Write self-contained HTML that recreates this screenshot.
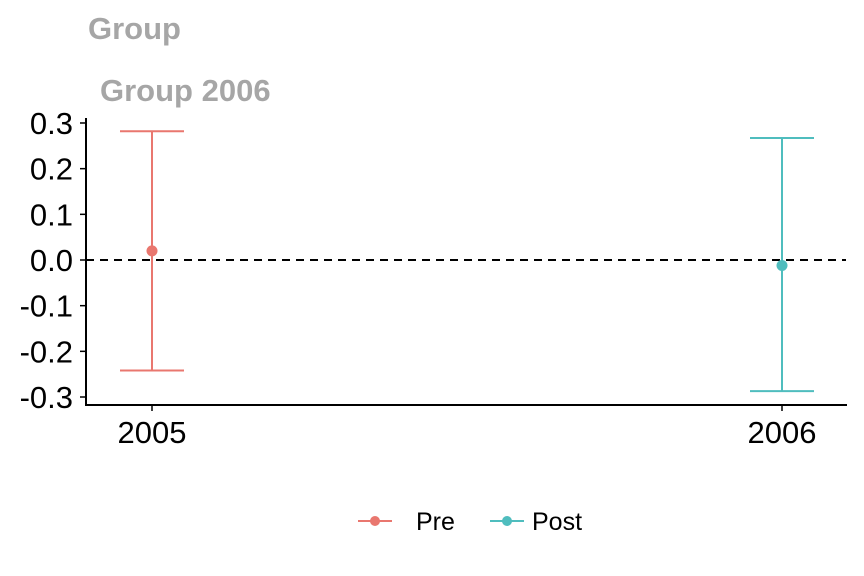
<!DOCTYPE html>
<html><head><meta charset="utf-8"><style>
body{margin:0;background:#fff}
svg{display:block;font-family:"Liberation Sans",Arial,sans-serif}
</style></head><body>
<svg id="chart" width="864" height="576" viewBox="0 0 864 576" xmlns="http://www.w3.org/2000/svg">
<text x="88" y="39" font-size="31" font-weight="bold" fill="#a6a6a6">Group</text>
<text x="100" y="101" font-size="31" font-weight="bold" fill="#a6a6a6">Group 2006</text>
<g id="plot"></g>
<g>
<g>
<line x1="358" y1="521" x2="392" y2="521" stroke="#E9776F" stroke-width="2"/><circle cx="375" cy="521" r="5" fill="#E9776F"/>
<text x="416" y="530" font-size="25">Pre</text></g>
<g>
<line x1="490" y1="521" x2="524" y2="521" stroke="#4FBDBE" stroke-width="2"/><circle cx="507" cy="521" r="5" fill="#4FBDBE"/>
<text x="532" y="530" font-size="25">Post</text></g>
</g>
</svg>
<script>
const categories=["2005","2006"];
const estimates=[0.02,-0.012];
const upper=[0.282,0.267];
const lower=[-0.242,-0.287];
const colors=["#E9776F","#4FBDBE"];
const yTicks=[0.3,0.2,0.1,0.0,-0.1,-0.2,-0.3];
const yTickLabels=["0.3","0.2","0.1","0.0","-0.1","-0.2","-0.3"];
const NS="http://www.w3.org/2000/svg";
const g=document.getElementById('plot');
const y=v=>260-v*456.7;
const x=i=>152+i*630;
function mk(t,a,p){const e=document.createElementNS(NS,t);for(const k in a)e.setAttribute(k,a[k]);(p||g).appendChild(e);return e;}
let e=mk('line',{x1:86,y1:118,x2:86,y2:406,stroke:'#000','stroke-width':2});


e=mk('line',{x1:85,y1:405,x2:847,y2:405,stroke:'#000','stroke-width':2});


yTicks.forEach((v,i)=>{
 e=mk('line',{x1:80,y1:y(v),x2:86,y2:y(v),stroke:'#000','stroke-width':1.5});
 
 
 e=mk('text',{x:73,y:y(v)+11,'text-anchor':'end','font-size':31});
 e.textContent=yTickLabels[i];
 
 
});
categories.forEach((c,i)=>{
 e=mk('line',{x1:x(i),y1:405,x2:x(i),y2:411,stroke:'#000','stroke-width':1.5});
 
 
 e=mk('text',{x:x(i),y:443,'text-anchor':'middle','font-size':31});
 e.textContent=c;
 
 
});
e=mk('line',{x1:86,y1:y(0),x2:846,y2:y(0),stroke:'#000','stroke-width':2,'stroke-dasharray':'8,6'});


categories.forEach((c,i)=>{
 const gr=mk('g',{stroke:colors[i],'stroke-width':2});
 
 
 mk('line',{x1:x(i),y1:y(upper[i]),x2:x(i),y2:y(lower[i])},gr);
 mk('line',{x1:x(i)-32,y1:y(upper[i]),x2:x(i)+32,y2:y(upper[i])},gr);
 mk('line',{x1:x(i)-32,y1:y(lower[i]),x2:x(i)+32,y2:y(lower[i])},gr);
 e=mk('circle',{cx:x(i),cy:y(estimates[i]),r:5.5,fill:colors[i],stroke:'none'},gr);
 
 
});
</script>
</body></html>
